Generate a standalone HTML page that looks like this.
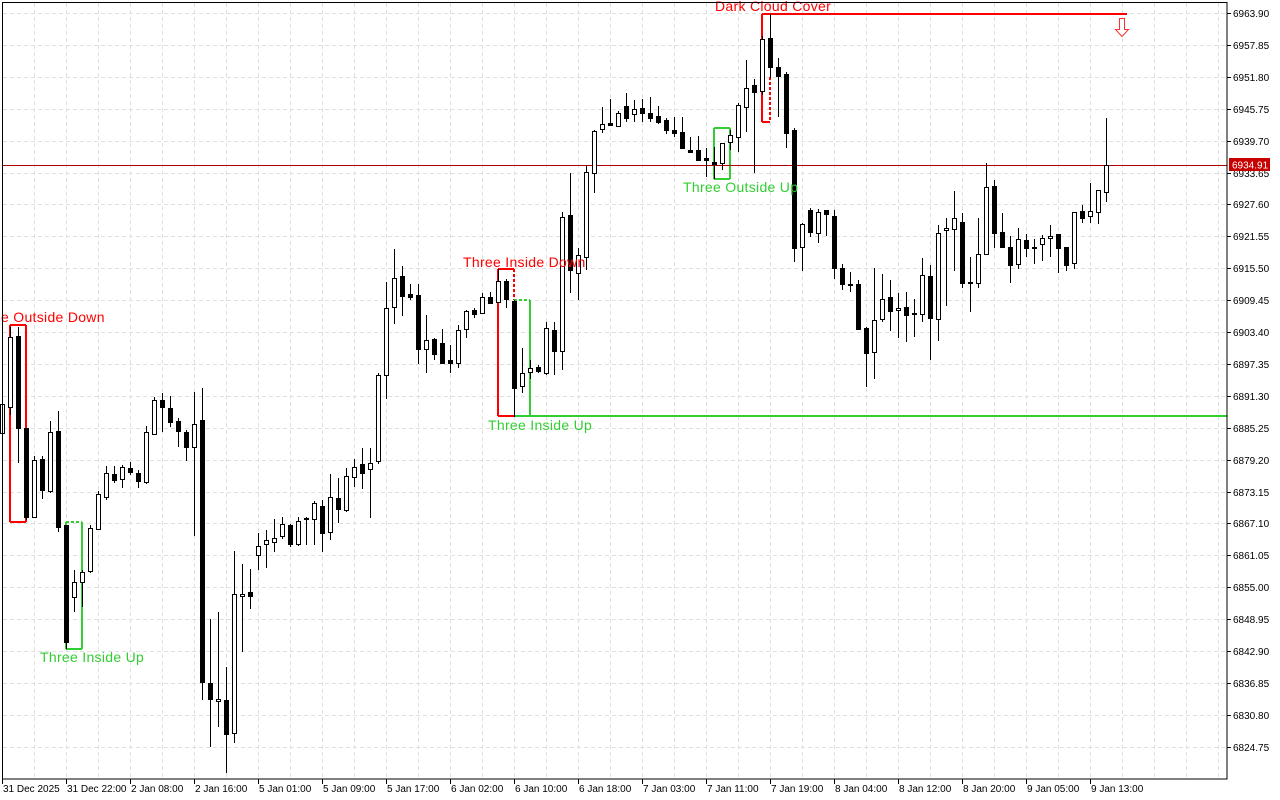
<!DOCTYPE html>
<html><head><meta charset="utf-8"><style>
html,body{margin:0;padding:0;background:#fff;}
svg{display:block;}
text{font-family:"Liberation Sans",sans-serif;}
</style></head><body>
<svg id="c" width="1280" height="800" xmlns="http://www.w3.org/2000/svg"></svg>
<script>
const S=document.getElementById('c');const NS='http://www.w3.org/2000/svg';
function el(t,a,txt){const e=document.createElementNS(NS,t);for(const k in a)e.setAttribute(k,a[k]);if(txt!==undefined)e.textContent=txt;S.appendChild(e);return e;}
el('rect',{x:0,y:0,width:1280,height:800,fill:'#fff'});
for(let x=34;x<1227;x+=32)el('line',{x1:x+.5,y1:3,x2:x+.5,y2:779,stroke:'#e0e0e0','stroke-dasharray':'4,3'});
const labs=['6963.90','6957.85','6951.80','6945.75','6939.70','6933.65','6927.60','6921.55','6915.50','6909.45','6903.40','6897.35','6891.30','6885.25','6879.20','6873.15','6867.10','6861.05','6855.00','6848.95','6842.90','6836.85','6830.80','6824.75'];
labs.forEach((l,i)=>{const y=Math.round(13+i*31.9);el('line',{x1:3,y1:y+.5,x2:1227,y2:y+.5,stroke:'#e0e0e0','stroke-dasharray':'4,3'});
el('line',{x1:1227,y1:y+.5,x2:1231,y2:y+.5,stroke:'#000'});
el('text',{x:1233,y:y+4,'font-size':'10',fill:'#000'},l);});
const tl=['31 Dec 2025','31 Dec 22:00','2 Jan 08:00','2 Jan 16:00','5 Jan 01:00','5 Jan 09:00','5 Jan 17:00','6 Jan 02:00','6 Jan 10:00','6 Jan 18:00','7 Jan 03:00','7 Jan 11:00','7 Jan 19:00','8 Jan 04:00','8 Jan 12:00','8 Jan 20:00','9 Jan 05:00','9 Jan 13:00'];
tl.forEach((l,i)=>{const x=2+64*i;el('line',{x1:x+.5,y1:779,x2:x+.5,y2:784,stroke:'#000'});el('text',{x:x+1,y:792,'font-size':'10',fill:'#000'},l);});
const D=[[395,440,404,433,1],[327,415,337,407,1],[327,463,336,428,0],[428,520,428,517,0],[456,518,460,517,1],[456,499,459,490,0],[421,493,432,491,1],[411,532,431,527,0],[525,649,525,642,0],[570,612,582,597,1],
[570,607,572,582,1],[525,573,528,571,1],[491,529,494,529,1],[466,500,473,497,1],[466,483,474,480,0],[465,488,467,479,1],[462,475,468,472,0],[470,488,473,481,0],[426,484,432,482,1],[397,434,400,434,1],
[393,432,400,407,0],[396,427,408,422,0],[418,447,421,431,0],[430,461,432,447,0],[392,536,424,447,1],[388,700,420,682,0],[619,747,683,699,0],[612,727,699,701,1],[667,773,700,734,0],[551,743,594,733,1],
[564,652,594,596,1],[569,609,592,596,0],[533,570,546,555,1],[530,568,540,544,1],[519,552,538,542,1],[517,539,524,536,1],[524,547,525,544,0],[517,546,521,544,1],[517,545,518,519,0],[501,545,503,519,1],
[500,552,506,533,0],[474,540,497,532,1],[478,523,498,509,0],[468,512,476,510,1],[459,487,467,477,1],[448,489,464,473,0],[448,518,463,469,1],[373,464,375,461,1],[282,399,308,375,1],[249,324,278,307,1],
[266,316,276,296,0],[284,300,294,297,0],[284,364,295,349,0],[315,373,340,349,1],[338,360,339,354,0],[329,363,343,363,0],[345,373,360,363,0],[325,368,330,363,1],[310,338,311,329,1],[308,318,310,314,0],
[293,313,297,313,1],[292,303,297,303,0],[269,302,281,302,1],[279,308,281,299,0],[300,417,301,388,0],[348,393,373,386,1],[360,379,368,372,1],[365,373,367,371,0],[322,375,328,373,1],[322,375,330,351,0],
[212,370,217,351,1],[173,293,215,270,0],[248,300,255,273,1],[165,270,172,257,1],[130,193,131,173,1],[107,133,124,129,1],[99,126,123,125,0],[111,127,113,126,1],[93,122,106,118,0],[100,122,109,114,1],
[99,122,108,113,0],[97,122,113,118,0],[106,124,116,122,0],[118,134,120,130,0],[117,137,130,133,0],[117,149,132,148,0],[137,152,150,152,0],[136,161,150,160,0],[148,177,158,160,0],[147,179,162,164,0],
[143,170,143,163,1],[130,150,135,142,1],[103,152,105,137,1],[60,132,88,107,1],[79,173,85,92,0],[36,95,39,91,1],[14,78,38,67,0],[58,117,67,76,0],[72,148,74,133,0],[128,262,130,248,0],
[223,271,224,247,1],[208,237,210,232,0],[209,243,212,233,1],[210,236,210,214,0],[210,279,216,268,0],[264,290,268,284,0],[272,292,284,285,0],[280,329,284,329,0],[327,387,328,353,0],[268,379,320,352,1],
[274,322,299,319,1],[280,331,297,311,0],[293,338,308,310,1],[292,342,307,315,0],[299,337,313,314,0],[258,322,275,314,1],[265,360,276,318,0],[225,341,233,319,1],[218,306,228,230,1],[191,271,218,229,1],
[213,288,222,283,0],[257,312,282,283,0],[218,288,254,283,1],[163,254,187,254,1],[180,248,186,233,0],[213,248,232,247,0],[236,283,247,265,0],[228,269,239,264,1],[234,257,240,248,0],[239,264,247,248,0],
[235,261,238,244,1],[225,257,236,238,1],[234,273,234,248,0],[247,271,247,265,0],[212,269,212,263,1],[205,223,211,218,0],[183,223,211,216,1],[190,224,190,212,1],[118,202,165,192,1]];
function ln(x1,y1,x2,y2,c,d){const a={x1,y1,x2,y2,stroke:c,'stroke-width':2};if(d)a['stroke-dasharray']='3,2';el('line',a);}
const R='#ff0000',G='#32cd32';
ln(10,325,26,325,R);ln(10,325,10,522,R);ln(26,325,26,522,R);ln(10,522,26,522,R);
ln(66,522,82,522,G,1);ln(66,522,66,649,G);ln(82,522,82,649,G);ln(66,649,82,649,G);
ln(498,269,514,269,R);ln(498,269,498,416,R);ln(514,269,514,300,R,1);ln(498,416,514,416,R);
ln(514,300,530,300,G,1);ln(530,300,530,416,G);ln(514,416,1227,416,G);
ln(714,128,730,128,G);ln(714,128,714,179,G);ln(730,128,730,179,G);ln(714,179,730,179,G);
ln(762,14,1127,14,R);ln(762,14,762,122,R);ln(762,122,770,122,R);ln(770,77,770,122,R,1);
el('line',{x1:3,y1:165.5,x2:1227,y2:165.5,stroke:'#b00000','stroke-width':1});
D.forEach((d,k)=>{const c=Math.round(2+8*k)+.5;
el('line',{x1:c,y1:d[0],x2:c,y2:d[1],stroke:'#000','stroke-width':1});
let h=Math.max(d[3]-d[2],1);
if(d[4])el('rect',{x:c-2,y:d[2]+.5,width:4,height:h,fill:'#fff',stroke:'#000','stroke-width':1});
else el('rect',{x:c-2.5,y:d[2],width:5,height:h+1,fill:'#000'});});
const F={'font-size':'14','letter-spacing':'0.3'};
el('text',Object.assign({x:1,y:322,fill:R},F),'e Outside Down');
el('text',Object.assign({x:40,y:662,fill:G},F),'Three Inside Up');
el('text',Object.assign({x:463,y:267,fill:R},F),'Three Inside Down');
el('text',Object.assign({x:488,y:430,fill:G},F),'Three Inside Up');
el('text',Object.assign({x:683,y:192,fill:G},F),'Three Outside Up');
el('text',Object.assign({x:715,y:11,fill:R},F),'Dark Cloud Cover');
el('path',{d:'M1119.5,18.5 h5 v11 h4 l-6.5,7 l-6.5,-7 h4 z',fill:'#fff',stroke:'#ff3030','stroke-width':1});
el('rect',{x:2.5,y:2.5,width:1224.5,height:776.5,fill:'none',stroke:'#000'});
el('rect',{x:1229,y:158,width:41,height:13,fill:'#c80000'});
el('text',{x:1232,y:168.5,'font-size':'10',fill:'#fff'},'6934.91');
</script>
</body></html>
